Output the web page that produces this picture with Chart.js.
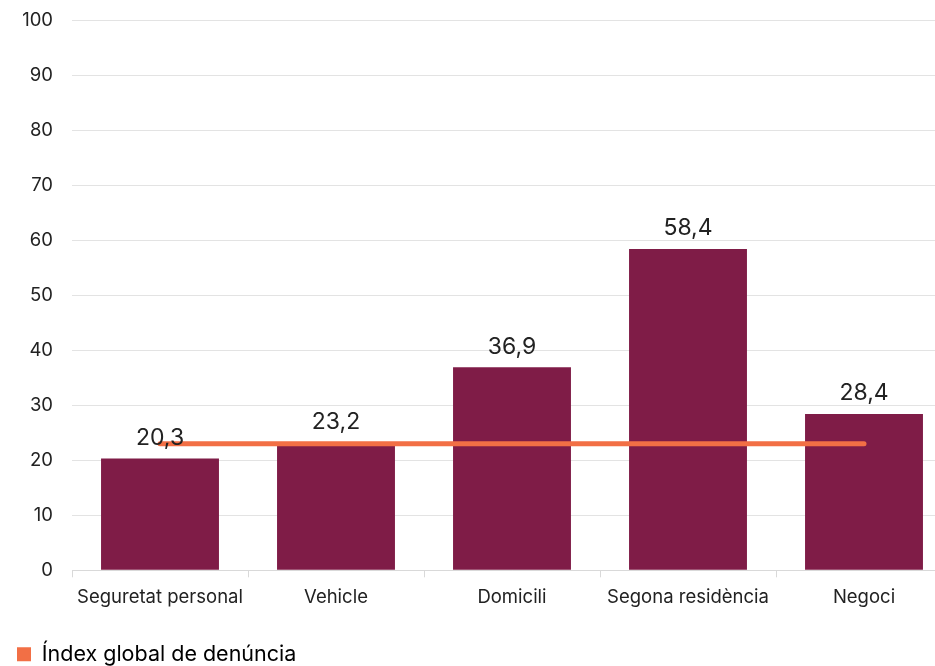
<!DOCTYPE html>
<html>
<head>
<meta charset="utf-8">
<script src="https://cdn.jsdelivr.net/npm/chart.js@4.4.1/dist/chart.umd.min.js"></script>
<style>
  html, body { margin: 0; padding: 0; background: #fff; }
  #wrap { width: 935px; height: 666px; overflow: hidden; position: relative; }
  #chart { position: absolute; left: 0; top: 0; }
</style>
</head>
<body>
<div id="wrap"><canvas id="chart" width="952" height="666"></canvas></div>
<script>
const categories = ['Seguretat personal', 'Vehicle', 'Domicili', 'Segona residència', 'Negoci'];
const taxaValues = [20.3, 23.2, 36.9, 58.4, 28.4];
const indexGlobal = [23, 23, 23, 23, 23];
const yTicks = [0, 10, 20, 30, 40, 50, 60, 70, 80, 90, 100];
const legendLabel = 'Índex global de denúncia';

const barColor = '#7f1c47';
const lineColor = '#f26f45';
const textColor = '#222222';
const fontFamily = 'Inter, "Noto Sans", sans-serif';

const fmt = v => v.toFixed(1).replace('.', ',');

// etiquetes de valor damunt de les barres
const valueLabels = {
    id: 'valueLabels',
    afterDatasetsDraw(chart) {
        const ctx = chart.ctx;
        const meta = chart.getDatasetMeta(0);
        ctx.save();
        ctx.font = '23px ' + fontFamily;
        ctx.fillStyle = textColor;
        ctx.textAlign = 'center';
        ctx.textBaseline = 'bottom';
        meta.data.forEach((bar, i) => {
            ctx.fillText(fmt(taxaValues[i]), bar.x, bar.y - 9);
        });
        ctx.restore();
    }
};

new Chart(document.getElementById('chart'), {
    data: {
        labels: categories,
        datasets: [
            {
                type: 'bar',
                label: 'Taxa',
                data: taxaValues,
                backgroundColor: barColor,
                categoryPercentage: 1,
                barPercentage: 0.67,
                order: 2
            },
            {
                type: 'line',
                label: legendLabel,
                data: indexGlobal,
                borderColor: lineColor,
                backgroundColor: lineColor,
                borderWidth: 5,
                borderCapStyle: 'round',
                pointRadius: 0,
                tension: 0,
                order: 1
            }
        ]
    },
    options: {
        responsive: false,
        animation: false,
        layout: { padding: { top: 20, left: 9, right: 0, bottom: -9 } },
        plugins: {
            tooltip: { enabled: false },
            legend: {
                position: 'bottom',
                align: 'start',
                labels: {
                    font: { family: fontFamily, size: 21.5 },
                    color: textColor,
                    boxWidth: 14,
                    boxHeight: 14,
                    padding: 8,
                    generateLabels: () => [{
                        text: legendLabel,
                        fillStyle: lineColor,
                        strokeStyle: lineColor,
                        lineWidth: 0,
                        hidden: false,
                        datasetIndex: 1
                    }]
                }
            }
        },
        scales: {
            x: {
                afterFit(scale) { scale.height += 18; },
                grid: { drawOnChartArea: false, drawTicks: true, tickLength: 7, color: '#d9d9d9' },
                border: { color: '#d9d9d9' },
                ticks: { font: { family: fontFamily, size: 18.5 }, color: textColor, padding: 9 }
            },
            y: {
                min: 0,
                max: 100,
                afterFit(scale) {
                    scale.width = 63;
                    scale.paddingTop = 0;
                    scale.paddingBottom = 0;
                },
                afterBuildTicks(scale) { scale.ticks = yTicks.map(v => ({ value: v })); },
                grid: { color: '#e3e3e3', drawTicks: false },
                border: { display: false },
                ticks: { font: { family: fontFamily, size: 18.5 }, color: textColor, padding: 19 }
            }
        }
    },
    plugins: [valueLabels]
});
</script>
</body>
</html>
